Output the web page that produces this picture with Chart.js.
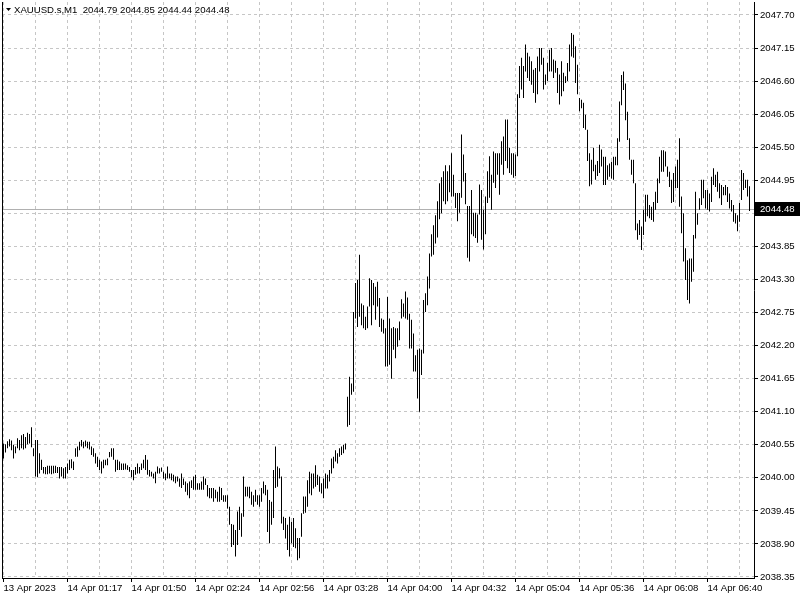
<!DOCTYPE html>
<html><head><meta charset="utf-8">
<script src="https://cdn.jsdelivr.net/npm/chart.js@4.4.0/dist/chart.umd.min.js"></script>
<style>html,body{margin:0;padding:0;background:#fff;overflow:hidden}canvas{display:block}</style>
</head><body>
<canvas id="c" width="800" height="600"></canvas>
<script>
const symbolLabel = 'XAUUSD.s,M1';
const lastOpen = 2044.79, lastHigh = 2044.85, lastLow = 2044.44, lastClose = 2044.48;

const highs = [
2040.57,2040.56,2040.61,2040.64,2040.62,2040.55,2040.52,2040.66,2040.63,2040.71,
2040.73,2040.68,2040.75,2040.73,2040.84,2040.49,2040.63,2040.63,2040.41,2040.30,
2040.18,2040.18,2040.20,2040.20,2040.20,2040.20,2040.20,2040.18,2040.18,2040.18,
2040.16,2040.18,2040.24,2040.30,2040.31,2040.27,2040.49,2040.52,2040.60,2040.63,
2040.60,2040.62,2040.60,2040.60,2040.52,2040.49,2040.41,2040.35,2040.30,2040.27,
2040.30,2040.30,2040.32,2040.43,2040.49,2040.49,2040.30,2040.30,2040.27,2040.24,
2040.24,2040.24,2040.21,2040.18,2040.13,2040.13,2040.18,2040.24,2040.18,2040.24,
2040.30,2040.38,2040.30,2040.13,
2040.10,2040.07,2040.10,2040.19,2040.16,2040.17,2040.10,2040.07,2040.19,2040.07,
2040.07,2040.05,2040.02,2040.02,2039.99,2040.07,2039.99,2039.94,2039.91,2039.94,
2039.96,2040.02,2040.05,2039.91,2039.91,2039.94,2040.02,2039.99,2039.88,2039.83,
2039.83,2039.83,2039.80,2039.77,2039.85,2039.83,2039.71,2039.71,2039.71,2039.52,
2039.23,2039.22,2039.13,2039.44,2039.52,2039.41,2040.02,2039.85,2039.85,2039.85,
2039.77,2039.71,2039.80,2039.71,2039.71,2039.83,2039.94,2039.88,2039.80,2039.63,
2039.60,2040.13,2040.52,2040.19,2040.16,2040.02,2039.35,2039.33,2039.22,2039.35,
2039.27,2039.33,2039.16,2039.00,2039.00,2039.41,
2039.69,2039.69,2039.96,2040.10,2040.07,2040.07,2040.21,2040.05,2040.02,2039.91,
2039.99,2040.07,2040.05,2040.13,2040.32,2040.35,2040.46,2040.41,2040.49,2040.52,
2040.55,2040.57,2041.35,2041.68,2041.57,2042.76,2043.24,2043.29,2043.71,2042.90,
2042.87,2042.68,2042.85,2043.32,2043.29,2043.24,2043.18,2043.26,2042.99,2042.65,
2042.63,2042.49,2043.01,2042.65,2042.49,2042.51,2042.49,2042.49,2042.60,2042.97,
2042.90,2043.10,2043.00,2042.73,2042.63,2042.40,2042.04,2042.13,2042.15,2042.13,
2042.96,2043.07,2043.35,2043.73,2044.05,2044.20,2044.37,
2044.60,2044.90,2045.00,2045.10,2045.20,2045.10,2045.20,
2045.40,2045.04,2044.74,2044.74,2044.74,2045.71,2045.38,2045.07,2044.52,2044.52,
2044.79,2044.41,2044.41,2044.38,2044.88,2044.79,2044.46,2044.68,2045.10,2045.35,
2045.04,2045.43,2045.40,2045.40,2045.40,2045.60,2045.68,2045.96,2045.96,2045.49,
2045.40,2045.40,2045.38,2046.38,2046.85,2046.99,2046.85,2047.21,2047.07,2047.01,
2046.93,2046.79,2046.82,2047.01,2047.15,2047.15,2046.99,2046.71,2046.90,2047.12,
2047.15,2046.96,2046.94,2046.82,2046.71,2046.93,2046.74,2046.68,2046.90,2047.21,
2047.40,2047.37,2047.18,2046.87,2046.32,2046.29,2046.24,2046.04,2045.79,2045.40,
2045.29,2045.49,2045.21,2045.27,2045.54,2045.46,
2045.34,2045.34,2045.20,2045.23,2045.26,2045.34,2045.34,2045.65,2046.26,2046.70,
2046.76,2046.56,2046.09,2045.65,2045.29,2045.29,2044.90,2044.23,2044.29,2044.18,
2044.46,2044.71,2044.71,2044.54,2044.51,2044.59,2044.76,2044.98,2045.34,2045.45,
2045.45,2045.43,2045.18,2045.09,2044.96,2045.07,2045.18,2045.29,2045.65,2044.68,
2044.40,2043.82,2043.62,2043.65,2043.65,2044.04,2044.76,2044.40,2044.65,2044.96,
2044.96,2044.79,2044.79,2044.73,2045.01,2045.15,2045.04,2045.09,2044.90,2044.87,
2044.84,2044.87,2044.84,2044.73,2044.62,2044.54,2044.40,2044.37,2044.57,2045.12,
2045.07,2044.96,2044.96,2044.85
];

const lows = [
2040.32,2040.42,2040.49,2040.52,2040.46,2040.32,2040.41,2040.49,2040.46,2040.49,
2040.47,2040.49,2040.56,2040.57,2040.51,2040.36,2040.02,2040.01,2040.07,2040.13,
2040.07,2040.06,2040.06,2040.07,2040.06,2040.07,2040.08,2040.08,2039.99,2040.02,
2039.99,2039.99,2040.07,2040.13,2040.16,2040.13,2040.35,2040.35,2040.46,2040.52,
2040.49,2040.52,2040.49,2040.47,2040.38,2040.35,2040.24,2040.18,2040.13,2040.07,
2040.16,2040.21,2040.21,2040.34,2040.35,2040.30,2040.10,2040.13,2040.13,2040.13,
2040.13,2040.14,2040.13,2040.10,2040.01,2039.96,2040.05,2040.07,2040.07,2040.13,
2040.16,2040.13,2040.05,2040.02,
2040.02,2039.99,2039.91,2040.07,2040.07,2040.10,2039.99,2039.96,2039.99,2039.99,
2039.96,2039.94,2039.91,2039.94,2039.85,2039.83,2039.88,2039.77,2039.71,2039.66,
2039.83,2039.80,2039.80,2039.80,2039.80,2039.80,2039.80,2039.88,2039.69,2039.66,
2039.66,2039.60,2039.66,2039.60,2039.60,2039.63,2039.60,2039.60,2039.49,2039.22,
2038.85,2038.88,2038.69,2038.88,2039.13,2039.02,2039.35,2039.69,2039.69,2039.66,
2039.55,2039.52,2039.60,2039.55,2039.52,2039.60,2039.74,2039.71,2039.10,2038.91,
2039.22,2039.33,2039.83,2039.85,2039.99,2039.24,2039.13,2038.99,2038.80,2038.69,
2038.91,2038.85,2038.83,2038.63,2038.66,2039.02,
2039.40,2039.42,2039.52,2039.74,2039.71,2039.82,2039.85,2039.88,2039.77,2039.74,
2039.66,2039.82,2039.82,2039.94,2040.07,2040.16,2040.27,2040.24,2040.35,2040.38,
2040.41,2040.47,2040.85,2040.88,2041.38,2041.43,2042.65,2042.51,2042.68,2042.54,
2042.49,2042.46,2042.49,2042.85,2042.54,2042.87,2042.63,2042.85,2042.51,2042.43,
2042.40,2041.85,2041.85,2041.88,2041.65,2042.13,2041.99,2042.18,2042.29,2042.65,
2042.68,2042.65,2042.63,2042.15,2042.15,2041.77,2041.77,2041.32,2041.10,2041.71,
2042.07,2042.76,2042.87,2043.15,2043.68,2043.71,2043.90,
2044.00,2044.30,2044.40,2044.60,2044.55,2044.60,2044.75,
2044.68,2044.68,2044.49,2044.27,2044.41,2044.66,2044.93,2044.55,2043.66,2043.60,
2044.05,2044.02,2043.99,2043.91,2044.38,2043.96,2043.80,2044.05,2044.57,2044.66,
2044.46,2044.91,2044.82,2045.04,2044.71,2045.21,2045.04,2045.27,2045.15,2045.07,
2045.04,2044.99,2045.02,2045.35,2046.32,2046.46,2046.32,2046.76,2046.65,2046.60,
2046.54,2046.40,2046.24,2046.38,2046.76,2046.87,2046.46,2046.54,2046.60,2046.76,
2046.76,2046.65,2046.74,2046.40,2046.21,2046.35,2046.43,2046.57,2046.60,2046.76,
2047.01,2046.99,2046.57,2046.38,2046.10,2046.15,2045.82,2045.79,2045.27,2044.85,
2044.88,2045.10,2044.96,2045.02,2045.07,2045.18,
2044.87,2044.87,2044.96,2045.01,2044.98,2044.96,2045.20,2045.20,2045.59,2046.20,
2046.45,2045.95,2045.62,2045.29,2045.04,2044.90,2044.12,2043.96,2044.04,2043.79,
2044.04,2044.26,2044.35,2044.32,2044.29,2044.26,2044.46,2044.57,2044.90,2045.09,
2045.09,2045.18,2045.01,2044.84,2044.57,2044.59,2044.82,2044.82,2044.51,2044.07,
2043.60,2043.29,2042.96,2042.90,2043.26,2043.43,2043.98,2044.21,2044.46,2044.54,
2044.65,2044.48,2044.46,2044.43,2044.59,2044.87,2044.84,2044.76,2044.65,2044.54,
2044.70,2044.70,2044.59,2044.48,2044.43,2044.26,2044.23,2044.10,2044.26,2044.62,
2044.79,2044.82,2044.68,2044.44
];

const xTickLabels = ['13 Apr 2023','14 Apr 01:17','14 Apr 01:50','14 Apr 02:24','14 Apr 02:56','14 Apr 03:28',
  '14 Apr 04:00','14 Apr 04:32','14 Apr 05:04','14 Apr 05:36','14 Apr 06:08','14 Apr 06:40'];
const yTicks = [2038.35,2038.90,2039.45,2040.00,2040.55,2041.10,2041.65,2042.20,2042.75,2043.30,
  2043.85,2044.40,2044.95,2045.50,2046.05,2046.60,2047.15,2047.70];

const BARS_PER_LABEL = 32, BARS_PER_GRID = 16;
const FONT = '"Liberation Sans", Arial, sans-serif';
Chart.defaults.font.family = FONT;
Chart.defaults.font.size = 9.6;
Chart.defaults.color = '#000';

const barData = highs.map((h, i) => ({x: i, y: [lows[i], h]}));
const gridIdx = [];
for (let i = 0; i < highs.length; i += BARS_PER_GRID) gridIdx.push(i);

const overlay = {
  id: 'overlay',
  beforeDatasetsDraw(chart) {
    const {ctx, chartArea: a, scales: {y}} = chart;
    const py = Math.round(y.getPixelForValue(lastClose)) + 0.5;
    ctx.save();
    ctx.strokeStyle = '#b0b0b0'; ctx.lineWidth = 1;
    ctx.beginPath(); ctx.moveTo(a.left, py); ctx.lineTo(a.right, py); ctx.stroke();
    ctx.restore();
  },
  afterDraw(chart) {
    const {ctx, chartArea: a, scales: {y}} = chart;
    ctx.save();
    ctx.strokeStyle = '#000'; ctx.lineWidth = 1;
    ctx.beginPath(); ctx.moveTo(a.left + 0.5, a.top); ctx.lineTo(a.left + 0.5, a.bottom); ctx.stroke();
    ctx.fillStyle = '#000';
    ctx.beginPath(); ctx.moveTo(6, 8); ctx.lineTo(11, 8); ctx.lineTo(8.5, 11); ctx.closePath(); ctx.fill();
    ctx.font = '9.6px ' + FONT;
    ctx.textBaseline = 'middle'; ctx.textAlign = 'left';
    ctx.fillText(symbolLabel + '  ' + [lastOpen, lastHigh, lastLow, lastClose].map(v => v.toFixed(2)).join(' '), 14, 10);
    const py = Math.round(y.getPixelForValue(lastClose));
    ctx.fillRect(a.right + 1, py - 7, chart.width - a.right - 1, 14);
    ctx.fillStyle = '#fff';
    ctx.fillText(lastClose.toFixed(2), a.right + 6, py + 0.5);
    ctx.restore();
  }
};

new Chart(document.getElementById('c'), {
  type: 'bar',
  data: { datasets: [{
    data: barData, backgroundColor: '#000', borderWidth: 0, barThickness: 1, inflateAmount: 0
  }]},
  options: {
    responsive: false, animation: false, devicePixelRatio: 1,
    layout: { padding: { left: 2, top: 2, right: 0, bottom: 0 } },
    plugins: { legend: { display: false }, tooltip: { enabled: false }, title: { display: false } },
    scales: {
      x: {
        type: 'linear', min: -0.75, max: highs.length + 1.25, offset: false,
        afterBuildTicks: s => { s.ticks = gridIdx.map(v => ({value: v})); },
        afterFit: s => { s.height = 22; s.paddingLeft = 0; s.paddingRight = 0; },
        grid: { offset: false, color: '#c6c6c6', tickLength: 4, tickWidth: 1,
          tickColor: c => (c.tick && c.tick.value % BARS_PER_LABEL === 0) ? '#000' : 'rgba(0,0,0,0)' },
        border: { display: true, color: '#000', width: 1, dash: [3, 3] },
        ticks: { autoSkip: false, maxRotation: 0, minRotation: 0, align: 'start', padding: 1,
          callback: v => v % BARS_PER_LABEL === 0 ? (xTickLabels[v / BARS_PER_LABEL] || '') : '' }
      },
      y: {
        type: 'linear', position: 'right', min: 2038.333, max: 2047.916,
        afterBuildTicks: s => { s.ticks = yTicks.map(v => ({value: v})); },
        afterFit: s => { s.width = 46; s.paddingTop = 0; s.paddingBottom = 0; },
        grid: { color: '#c6c6c6', tickLength: 4, tickColor: '#000' },
        border: { display: true, color: '#000', width: 1, dash: [3, 3] },
        ticks: { padding: 2, callback: v => Number(v).toFixed(2) }
      }
    }
  },
  plugins: [overlay]
});
</script>
</body></html>
